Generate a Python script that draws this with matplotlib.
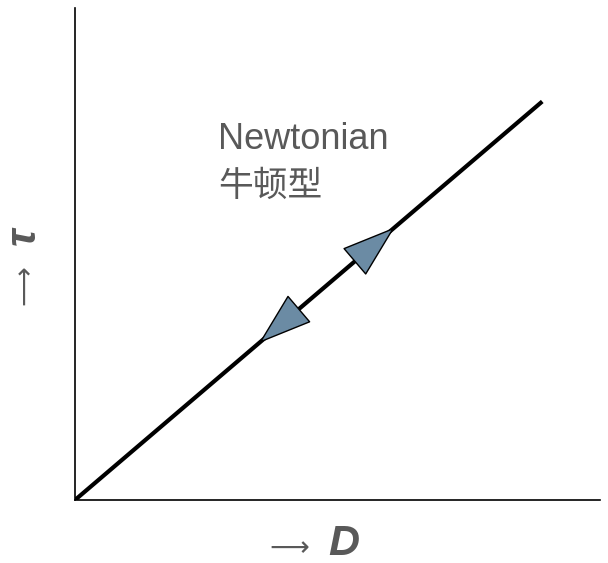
import matplotlib.pyplot as plt

# Flow curve of a Newtonian fluid: shear stress vs. shear rate
shear_rate = [0.0, 8.9]
shear_stress = [0.0, 8.1]

# arrow heads along the curve: (base, tip) as fractions of the line
arrow_up = (0.605, 0.684)
arrow_down = (0.468, 0.394)

label_en = "Newtonian"
label_cn = "牛顿型"

plt.rcParams['font.family'] = ['Liberation Sans', 'Noto Sans CJK SC', 'DejaVu Sans']
plt.rcParams['mathtext.fontset'] = 'dejavusans'
text_color = '#595959'
head_color = '#6b8ba4'

fig = plt.figure(figsize=(6.08, 5.63), dpi=100)
ax = fig.add_axes([75 / 608, 63 / 563, 525 / 608, 492 / 563])
ax.set_xlim(0, 10)
ax.set_ylim(0, 10)

ax.plot(shear_rate, shear_stress, color='black', lw=3, solid_capstyle='butt')

def point_at(f):
    return (shear_rate[0] + f * (shear_rate[1] - shear_rate[0]),
            shear_stress[0] + f * (shear_stress[1] - shear_stress[0]))

for base, tip in (arrow_up, arrow_down):
    ax.annotate('', xy=point_at(tip), xytext=point_at(base),
                arrowprops=dict(arrowstyle='-|>,head_length=3.6,head_width=1.2',
                                mutation_scale=10, fc=head_color, ec='black',
                                lw=1, shrinkA=0, shrinkB=0))

ax.text(2.72, 7.13, label_en, fontsize=26, color=text_color, va='baseline')
ax.text(2.72, 6.18, label_cn, fontsize=25, color=text_color, va='baseline',
        family=['Noto Sans CJK SC', 'DejaVu Sans'])

for side in ('top', 'right'):
    ax.spines[side].set_visible(False)
for side in ('left', 'bottom'):
    ax.spines[side].set_linewidth(1.2)
ax.set_xticks([])
ax.set_yticks([])

# axis labels: arrow followed by the quantity symbol
fig.text(287 / 608, 1 - 547 / 563, r'$\longrightarrow$', fontsize=20, color=text_color,
         ha='center', va='center')
fig.text(344 / 608, 1 - 544 / 563, 'D', fontsize=31, color=text_color,
         ha='center', va='center', fontweight='bold', style='italic')
fig.text(25 / 608, 1 - 289 / 563, r'$\longrightarrow$', fontsize=20, color=text_color,
         ha='center', va='center', rotation=90)
fig.text(24 / 608, 1 - 236 / 563, 'τ', fontsize=31, color=text_color,
         ha='center', va='center', rotation=90, fontweight='bold', style='italic')

fig.savefig('out.png', dpi=100)
